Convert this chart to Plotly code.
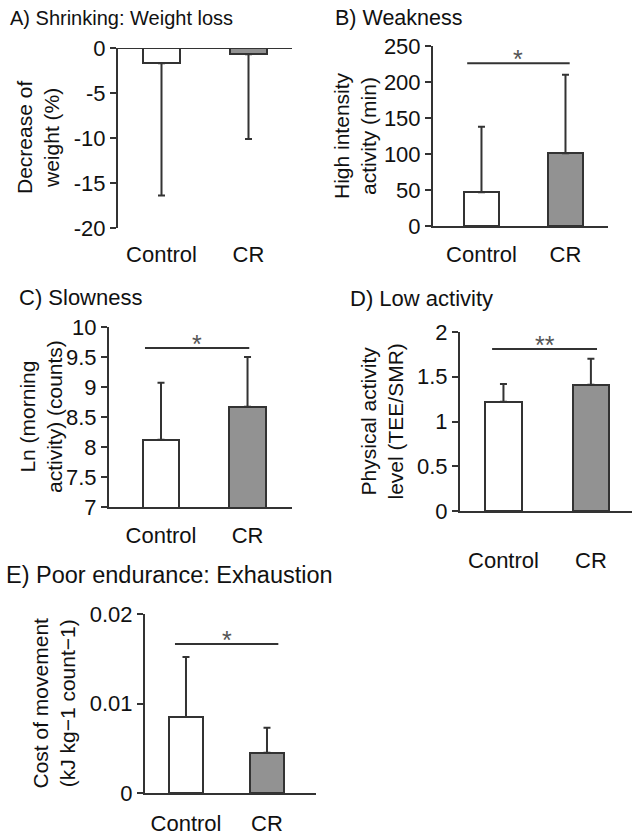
import plotly.graph_objects as go

W, H = 632, 835
categories = ["Control", "CR"]

# Panel data
titles = ["A) Shrinking: Weight loss", "B) Weakness", "C) Slowness",
          "D) Low activity", "E) Poor endurance: Exhaustion"]
ytitles = ["Decrease of<br>weight (%)", "High intensity<br>activity (min)",
           "Ln (morning<br>activity) (counts)", "Physical activity<br>level (TEE/SMR)",
           "Cost of movement<br>(kJ kg\u22121 count\u22121)"]
means_A = [-1.7, -0.7]
sd_A = [14.7, 9.4]
means_B = [47, 101]
sd_B = [91, 109]
means_C = [8.12, 8.67]
sd_C = [0.95, 0.83]
means_D = [1.22, 1.41]
sd_D = [0.20, 0.29]
means_E = [0.0085, 0.0045]
sd_E = [0.0067, 0.0028]
yranges = [[-20, 0], [0, 250], [7, 10], [0, 2], [0, 0.02]]
ytickvals = [[0, -5, -10, -15, -20], [0, 50, 100, 150, 200, 250],
             [7, 7.5, 8, 8.5, 9, 9.5, 10], [0, 0.5, 1, 1.5, 2], [0, 0.01, 0.02]]
yticktext = [["0", "-5", "-10", "-15", "-20"], ["0", "50", "100", "150", "200", "250"],
             ["7", "7.5", "8", "8.5", "9", "9.5", "10"], ["0", "0.5", "1", "1.5", "2"],
             ["0", "0.01", "0.02"]]
sig_y = [None, 226, 9.65, 1.81, 0.01665]
sig_txt = [None, "*", "*", "**", "*"]

means = [means_A, means_B, means_C, means_D, means_E]
sds = [sd_A, sd_B, sd_C, sd_D, sd_E]

# layout geometry (pixels): left, right, top, bottom of plot areas
boxes = [(118, 292, 48, 228), (433, 608, 46, 226), (109, 292, 327, 507),
         (460, 632, 332, 511), (145, 316, 614, 793)]
xranges = [[-0.5, 1.5], [-0.577, 1.506], [-0.601, 1.514], [-0.497, 1.47], [-0.506, 1.605]]
label_stand = [11, 8, 8, 29, 10]
title_pos = [(8, 18), (333, 18), (17, 297), (348, 298), (4, 575)]
title_size = [20, 21.5, 22, 22, 23.5]
ytitle_x = [38, 355, 41, 381, 53]
sig_span = [None, (-0.17, 1.05), (-0.185, 1.02), (-0.13, 1.07), (-0.136, 1.14)]

FONT = "Liberation Sans, Arial, sans-serif"
TXT = "#111111"
LINE = "#333333"
GRAY = "#929292"

fig = go.Figure()
shapes = []
annotations = []

for i in range(5):
    n = "" if i == 0 else str(i + 1)
    xa, ya = "x" + n, "y" + n
    l, r, t, b = boxes[i]
    neg = i == 0
    err = dict(type="data", symmetric=False, color=LINE, thickness=2, width=3.5,
               array=[0, 0] if neg else sds[i],
               arrayminus=sds[i] if neg else [0, 0])
    fig.add_trace(go.Bar(
        x=[0, 1], y=means[i], width=0.42, xaxis=xa, yaxis=ya,
        marker=dict(color=["white", GRAY], line=dict(color=LINE, width=2)),
        error_y=err, showlegend=False, hoverinfo="skip"))

    xdom = [l / W, r / W]
    ydom = [1 - b / H, 1 - t / H]
    fig.layout["xaxis" + n] = dict(
        domain=xdom, range=xranges[i], anchor=ya, tickvals=[0, 1], ticktext=categories,
        showline=not neg, linecolor=LINE, linewidth=2, ticks="", showgrid=False,
        zeroline=False, ticklabelstandoff=label_stand[i], automargin=False,
        tickfont=dict(family=FONT, size=22, color=TXT), fixedrange=True)
    fig.layout["yaxis" + n] = dict(
        domain=ydom, range=yranges[i], anchor=xa, tickvals=ytickvals[i],
        ticktext=yticktext[i], showline=True, linecolor=LINE, linewidth=2,
        ticks="outside", ticklen=6, tickwidth=2, tickcolor=LINE, showgrid=False,
        zeroline=False, automargin=False,
        tickfont=dict(family=FONT, size=22, color=TXT), fixedrange=True)

    if neg:
        shapes.append(dict(type="line", xref=xa + " domain", yref=ya, x0=0, x1=1,
                           y0=0, y1=0, line=dict(color=LINE, width=2)))

    if sig_y[i] is not None:
        x0, x1 = sig_span[i]
        shapes.append(dict(type="line", xref=xa, yref=ya, x0=x0, x1=x1,
                           y0=sig_y[i], y1=sig_y[i], line=dict(color=LINE, width=2)))
        annotations.append(dict(xref=xa, yref=ya, x=(x0 + x1) / 2, y=sig_y[i],
                                text=sig_txt[i], showarrow=False, yanchor="bottom",
                                yshift=-12, font=dict(family=FONT, size=25, color="#555555")))

    tx, ty = title_pos[i]
    annotations.append(dict(xref="paper", yref="paper", x=tx / W, y=1 - ty / H,
                            xanchor="left", yanchor="middle", text=titles[i],
                            showarrow=False, font=dict(family=FONT, size=title_size[i], color=TXT)))
    annotations.append(dict(xref="paper", yref="paper", x=ytitle_x[i] / W,
                            y=1 - ((t + b) / 2) / H, xanchor="center", yanchor="middle",
                            text=ytitles[i], textangle=-90, showarrow=False,
                            font=dict(family=FONT, size=21, color=TXT)))

fig.update_layout(width=W, height=H, margin=dict(l=0, r=0, t=0, b=0, pad=0),
                  autosize=False,
                  paper_bgcolor="white", plot_bgcolor="white",
                  shapes=shapes, annotations=annotations, bargap=0)

fig.write_html("out.html", config={"displayModeBar": False},
               post_script="document.body.style.margin='0';document.body.style.overflow='hidden';")
